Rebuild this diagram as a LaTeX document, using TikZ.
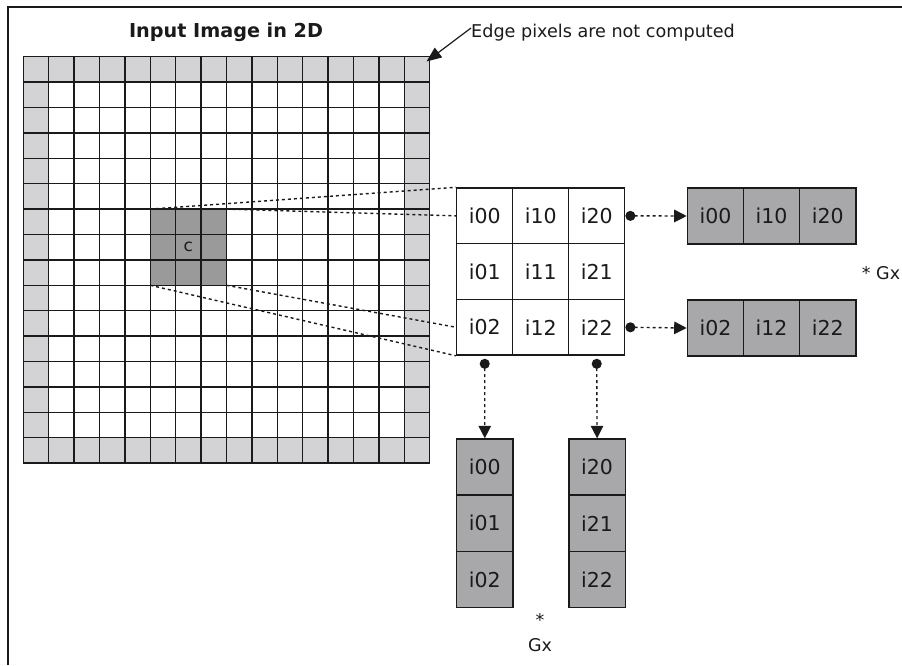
\documentclass[tikz,border=0pt]{standalone}
\usepackage{fontspec}
\setmainfont{DejaVu Sans}
\usetikzlibrary{arrows.meta}
\definecolor{edgegray}{HTML}{D3D3D5}
\definecolor{kerngray}{HTML}{9A9A9A}
\definecolor{outgray}{HTML}{A8A8AA}
\definecolor{inkc}{HTML}{1A1A1A}
\begin{document}
\begin{tikzpicture}[x=1pt,y=-1pt,
  cellbox/.style={draw=inkc, line width=1.4pt, minimum width=56pt, minimum height=55.7pt,
    inner sep=0pt, anchor=north west, text=inkc, font=\fontsize{20.5}{22}\selectfont},
  outcell/.style={cellbox, fill=outgray, minimum width=56.2pt, minimum height=56pt},
  gridline/.style={draw=inkc, line width=1.5pt},
  dotline/.style={draw=inkc, line width=1.4pt, dash pattern=on 3pt off 3pt},
  conn/.style={dotline, {Circle[length=10pt,width=10pt]}-{Triangle[length=12.5pt,width=12.5pt]}},
  lbl/.style={text=inkc, inner sep=0pt}]
\useasboundingbox (0,0) rectangle (902,665);
% frame (left and top only)
\draw[inkc, line width=2pt] (8.3,665) -- (8.3,7) -- (902,7);
% title
\node[lbl, font=\bfseries\fontsize{19.2}{22}\selectfont] (title) at (226,32) {Input Image in 2D};
% image grid
\fill[edgegray] (23.3,56.7) rectangle (429.7,463.1);
\fill[white] (48.7,82.1) rectangle (404.3,437.7);
\fill[kerngray] (150.3,209.1) rectangle (226.5,285.3);
\foreach \i in {0,...,16} {
  \draw[gridline] (23.3+\i*25.4,56.7) -- (23.3+\i*25.4,463.1);
  \draw[gridline] (23.3,56.7+\i*25.4) -- (429.7,56.7+\i*25.4);
}
\coordinate (kNW) at (150.3,209.1);
\coordinate (kNE) at (226.5,209.1);
\coordinate (kSW) at (150.3,285.3);
\coordinate (kSE) at (226.5,285.3);
\node[lbl, font=\fontsize{17}{18}\selectfont] (cc) at (188.4,247) {c};
% edge annotation
\node[lbl, anchor=west, font=\fontsize{17.6}{20}\selectfont] (edgelbl) at (471,33) {Edge pixels are not computed};
\coordinate (edgetip) at (426.5,61.5);
\draw[inkc, line width=1.2pt, -{Triangle[length=15pt,width=12pt]}] ([shift={(0,-5)}]edgelbl.west) -- (edgetip);
% 3x3 neighbourhood
\foreach \c in {0,1,2} {
  \foreach \r in {0,1,2} {
    \node[cellbox, fill=white] (m\c\r) at (456+\c*56,187.3+\r*55.7) {i\c\r};
  }
}
% dotted projection lines
\draw[dotline] (kNW) -- (m00.north west);
\draw[dotline] (kNE) -- (m00.west);
\draw[dotline] (kSW) -- (m02.south west);
\draw[dotline] (kSE) -- (m02.west);
% row vectors
\foreach \c in {0,1,2} {
  \node[outcell] (ra\c) at (686.7+\c*56.1,187.3) {i\c0};
  \node[outcell] (rb\c) at (686.7+\c*56.1,299.3) {i\c2};
}
% column vectors
\foreach \r in {0,1,2} {
  \node[outcell] (ca\r) at (456,438.3+\r*56.3) {i0\r};
  \node[outcell] (cb\r) at (568.3,438.3+\r*56.3) {i2\r};
}
% connectors
\draw[conn] (m20.east) -- (ra0.west);
\draw[conn] (m22.east) -- (rb0.west);
\draw[conn] ([yshift=-3pt]m02.south) -- (ca0.north);
\draw[conn] ([yshift=-3pt]m22.south) -- (cb0.north);
% Gx labels
\node[lbl, font=\fontsize{17.5}{20}\selectfont] (gxr) at (881,273) {* Gx};
\node[lbl, font=\fontsize{17.5}{20}\selectfont] (star) at (540,620) {*};
\node[lbl, font=\fontsize{17.5}{20}\selectfont] (gxb) at (540,645) {Gx};
\end{tikzpicture}
\end{document}
